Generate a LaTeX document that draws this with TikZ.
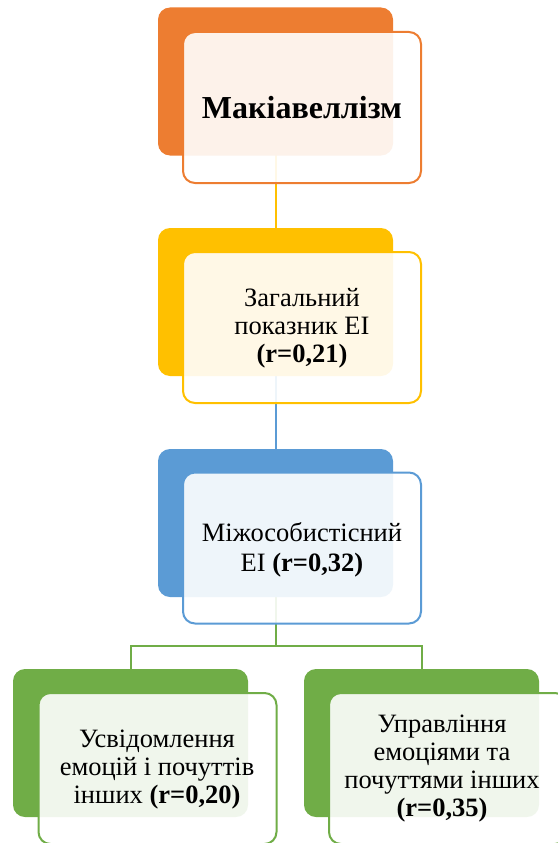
\documentclass[tikz,border=0pt]{standalone}
\usepackage{fontspec}
\setmainfont{Liberation Serif}
\definecolor{cOr}{HTML}{ED7D31}
\definecolor{cYe}{HTML}{FFC000}
\definecolor{cBl}{HTML}{5B9BD5}
\definecolor{cGr}{HTML}{70AD47}
\begin{document}
\begin{tikzpicture}[x=1pt,y=-1pt,
  backbox/.style={rectangle, rounded corners=12pt, fill=#1, draw=none, minimum width=235pt, minimum height=148pt, inner sep=0pt},
  frontbox/.style={rectangle, rounded corners=12pt, fill=white, fill opacity=0.9, draw=#1, draw opacity=1, line width=2pt, minimum width=238pt, minimum height=151pt, inner sep=0pt},
  txt/.style={align=center, font=\fontsize{26.5}{28}\selectfont, inner sep=0pt},
  conn/.style={draw=#1, line width=2pt}]
\useasboundingbox (0,0) rectangle (557,843);
% coordinates for back boxes
\coordinate (c1) at (275.5,81.5);
\coordinate (c2) at (275.5,302);
\coordinate (c3) at (275.5,523);
\coordinate (c4) at (130.5,743);
\coordinate (c5) at (421.5,743);
\coordinate (fork) at (275.5,646);
% connectors (behind boxes)
\draw[conn=cYe] (c1) -- (c2);
\draw[conn=cBl] (c2) -- (c3);
\draw[conn=cGr] (c3) -- (fork) -| (c4);
\draw[conn=cGr] (fork) -| (c5);
% boxes
\node[backbox=cOr] (b1) at (c1) {};
\node[frontbox=cOr] (f1) at (302,107.5) {};
\node[backbox=cYe] (b2) at (c2) {};
\node[frontbox=cYe] (f2) at (302,327.5) {};
\node[backbox=cBl] (b3) at (c3) {};
\node[frontbox=cBl] (f3) at (302,548) {};
\node[backbox=cGr] (b4) at (c4) {};
\node[frontbox=cGr] (f4) at (157.5,768.5) {};
\node[backbox=cGr] (b5) at (c5) {};
\node[frontbox=cGr] (f5) at (448,768.5) {};
% texts
\node[inner sep=0pt, font=\fontsize{32}{36}\selectfont\bfseries] (t1) at (302,107.5) {Макіавеллізм};
\node[txt] (t2) at (302,328) {Загальний\\показник EI\\\textbf{(r=0,21)}};
\node[txt, font=\fontsize{26.5}{30}\selectfont] (t3) at (302,550) {Міжособистісний\\EI \textbf{(r=0,32)}};
\node[txt] (t4) at (157,770) {Усвідомлення\\емоцій і почуттів\\інших \textbf{(r=0,20)}};
\node[txt] (t5) at (442,769) {Управління\\емоціями та\\почуттями інших\\\textbf{(r=0,35)}};
\end{tikzpicture}
\end{document}
